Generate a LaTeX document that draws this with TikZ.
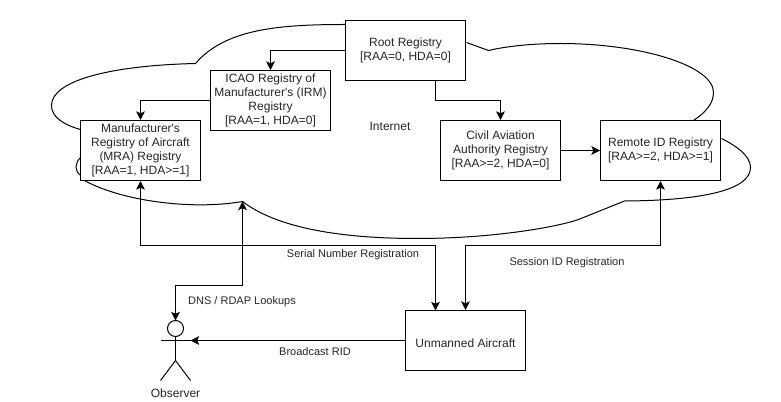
\documentclass[tikz,border=0pt]{standalone}
\usepackage{fontspec}
\setmainfont{Liberation Sans}[Ligatures=TeXOff]
\usetikzlibrary{arrows.meta}
\tikzset{
  px/.style={x=0.75pt,y=-0.75pt},
  regbox/.style={draw=black,fill=white,line width=0.75pt,minimum width=90pt,minimum height=45pt,inner sep=0pt,align=center,font=\fontsize{9}{10.5}\selectfont,text=black!85,execute at begin node={\rule{0pt}{11pt}}},
  plainbox/.style={regbox,execute at begin node={}},
  lbl/.style={font=\fontsize{8.25}{10}\selectfont,text=black!85,inner sep=0pt},
  conn/.style={draw=black,line width=0.75pt,-{Stealth[length=6.5pt,width=6.5pt,inset=1.5pt]}},
  biconn/.style={draw=black,line width=0.75pt,{Stealth[length=6.5pt,width=6.5pt,inset=1.5pt]}-{Stealth[length=6.5pt,width=6.5pt,inset=1.5pt]}},
  cloudline/.style={draw=black,line width=0.75pt},
  actorline/.style={draw=black,line width=0.75pt}
}
\begin{document}
\begin{tikzpicture}[px]
\useasboundingbox (-0.5,-0.5) rectangle (780.5,401.5);
\fill[white] (-0.5,-0.5) rectangle (780.5,401.5);
% cloud
\draw[cloudline] (345,24) .. controls (280,24) and (225,28) .. (195,63)
  .. controls (110,65) and (51,80) .. (51,105)
  .. controls (51,116) and (62,124) .. (80,129);
\draw[cloudline] (80,157) .. controls (74,163) and (74,170) .. (80,175);
\draw[cloudline] (84,180) .. controls (120,200) and (190,210) .. (242,201)
  .. controls (280,230) and (350,238) .. (417,238)
  .. controls (490,238) and (555,227) .. (578,219)
  -- (624,200.5)
  .. controls (700,200) and (750,190) .. (750,167)
  .. controls (750,155) and (735,145) .. (721,138);
\draw[cloudline] (693,120) .. controls (705,112) and (713,103) .. (713,92)
  .. controls (713,65) and (640,43) .. (560,43)
  .. controls (530,43) and (505,46) .. (488,50) -- (466,42);
% boxes
\node[regbox] (root) at (405,50) {Root Registry\\{}[RAA=0, HDA=0]};
\node[regbox] (icao) at (270,100) {ICAO Registry of\\Manufacturer's (IRM)\\Registry\\{}[RAA=1, HDA=0]};
\node[regbox] (mra) at (140,150) {Manufacturer's\\Registry of Aircraft\\(MRA) Registry\\{}[RAA=1, HDA>=1]};
\node[regbox] (caa) at (500,150) {Civil Aviation\\Authority Registry\\{}[RAA>=2, HDA=0]};
\node[regbox] (rid) at (660,150) {Remote ID Registry\\{}[RAA>=2, HDA>=1]};
\node[plainbox] (ua) at (465,340) {Unmanned Aircraft};
% named connection points
\coordinate (rootS) at (435,80);
\coordinate (uaA) at (435,310);
\coordinate (cloudDip) at (242,201);
\coordinate (obsTop) at (175,320);
\coordinate (obsArm) at (190,340);
% connectors
\draw[conn] (root.west) -| (icao.north);
\draw[conn] (icao.west) -| (mra.north);
\draw[conn] (rootS) -- (435,100) -| (caa.north);
\draw[conn] (caa.east) -- (rid.west);
\draw[biconn] (mra.south) -- (140,245) -| (uaA);
\draw[biconn] (rid.south) -- (660,245) -| (ua.north);
\draw[biconn] (cloudDip) -- (242,285) -| (obsTop);
\draw[conn] (ua.west) -- (obsArm);
% actor
\node[draw=black,fill=white,line width=0.75pt,circle,minimum size=12pt,inner sep=0pt] (head) at (175,328) {};
\draw[actorline] (head.south) -- (175,360) coordinate (hip);
\draw[actorline] (160,340) -- (obsArm);
\draw[actorline] (160,380) -- (hip) -- (190,380);
% labels
\node[lbl,font=\fontsize{9}{10.5}\selectfont] (inet) at (389.5,126) {Internet};
\node[lbl] (serial) at (352.5,254) {Serial Number Registration};
\node[lbl] (session) at (566.5,262) {Session ID Registration};
\node[lbl] (dns) at (241.5,301.5) {DNS / RDAP Lookups};
\node[lbl] (bcast) at (314.5,351) {Broadcast RID};
\node[lbl,font=\fontsize{9}{10.5}\selectfont] (obs) at (175,393) {Observer};
\end{tikzpicture}
\end{document}
